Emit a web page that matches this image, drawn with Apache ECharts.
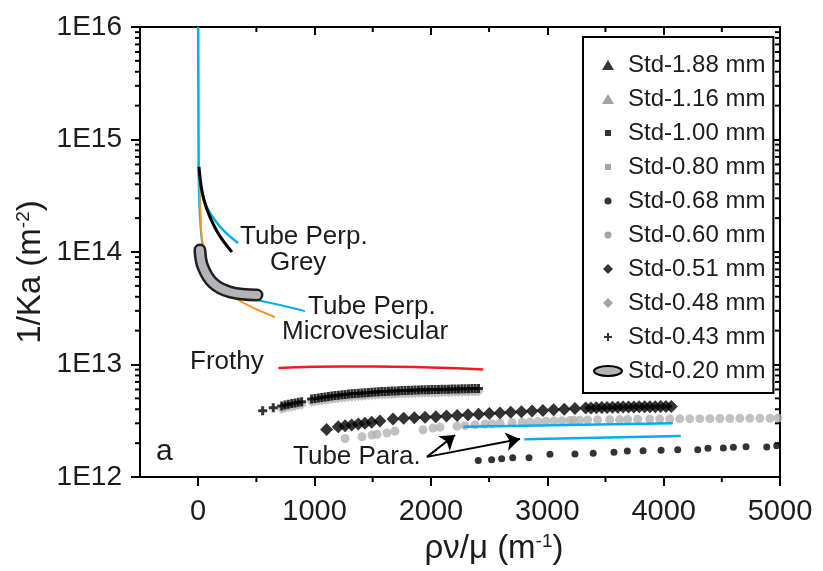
<!DOCTYPE html>
<html>
<head>
<meta charset="utf-8">
<script src="https://cdn.jsdelivr.net/npm/echarts@6.0.0/dist/echarts.min.js"></script>
<style>
  html, body { margin: 0; padding: 0; background: #fff; }
  #chart { width: 823px; height: 571px; }
</style>
</head>
<body>
<div id="chart"></div>
<script>
// ---- values (x in m^-1, y in m^-2) ----
const E12 = 1e12;

// x axis ticks
const xMajor = [0, 1000, 2000, 3000, 4000, 5000];
const xMinor = [500, 1500, 2500, 3500, 4500];
// log minor multipliers
const yMinorMult = [2, 3, 4, 5, 6, 7, 8, 9];
const yDecades = [1e12, 1e13, 1e14, 1e15];

// tube perpendicular, grey sample (blue = tube, black = second run)
const tubePerpGreyBlue = [[0, 1e16], [2, 2.24e15], [4, 6.2e14], [41, 3.08e14], [162, 1.81e14], [342, 1.2e14]];
const tubePerpGreyBlack = [[7, 5.7e14], [50, 2.9e14], [155, 1.57e14], [290, 1.0e14]];
// microvesicular sample
const microOrange = [[8, 5.9e14], [22, 2.0e14], [38, 1.2e14], [144, 5.1e13], [299, 3.98e13], [470, 3.2e13], [660, 2.64e13]];
const microBlue = [[3, 6e14], [30, 1.3e14], [120, 6e13], [300, 4.3e13], [503, 3.74e13], [703, 3.38e13], [918, 2.98e13]];
// frothy
const frothy = [[690, 9.3e12], [1000, 9.55e12], [1500, 9.6e12], [2000, 9.4e12], [2450, 9.05e12]];
// tube parallel
const tubePara1 = [[2278, 2.80e12], [4078, 3.00e12]];
const tubePara2 = [[2803, 2.16e12], [4147, 2.31e12]];
// arrows (tail, heads)
const arrowTail = [1966, 1.51e12];
const arrowHead1 = [2207, 2.36e12];
const arrowHead2 = [2766, 2.18e12];

// Std-0.20 mm band
const std020 = [[15, 1.04e14], [41, 7.36e13], [127, 5.3e13], [273, 4.41e13], [505, 4.15e13]];

// Std-0.43 mm (+), y in 1e12
const std043X = [554, 645, 718, 746, 774, 804, 832, 860, 889, 975, 1004, 1033, 1062, 1090, 1119, 1148, 1176, 1205, 1234, 1262,
  1291, 1320, 1348, 1377, 1406, 1434, 1463, 1492, 1520, 1549, 1578, 1606, 1635, 1664, 1692, 1721, 1750, 1778, 1807, 1836,
  1864, 1893, 1922, 1950, 1979, 2008, 2036, 2065, 2094, 2122, 2151, 2180, 2208, 2237, 2266, 2294, 2323, 2352, 2380, 2409];
const std043Y = [3.88, 4.13, 4.28, 4.37, 4.43, 4.49, 4.55, 4.62, 4.67, 4.93, 4.99, 5.05, 5.10, 5.15, 5.20, 5.25, 5.30, 5.34, 5.38, 5.42,
  5.46, 5.50, 5.53, 5.56, 5.59, 5.62, 5.65, 5.67, 5.70, 5.72, 5.74, 5.76, 5.78, 5.80, 5.82, 5.84, 5.86, 5.87, 5.89, 5.90,
  5.92, 5.93, 5.95, 5.96, 5.97, 5.99, 6.00, 6.01, 6.02, 6.03, 6.04, 6.05, 6.06, 6.07, 6.08, 6.09, 6.10, 6.11, 6.12, 6.13];
// Std-0.48 mm (grey diamonds just under the + row), same x from index 2
const std048Y = [null, null, 4.02, 4.11, 4.16, 4.22, 4.28, 4.34, 4.39, 4.63, 4.69, 4.75, 4.79, 4.84, 4.89, 4.94, 4.98, 5.02, 5.06, 5.09,
  5.13, 5.17, 5.20, 5.23, 5.25, 5.28, 5.31, 5.33, 5.36, 5.38, 5.40, 5.41, 5.43, 5.45, 5.47, 5.49, 5.51, 5.52, 5.54, 5.55,
  5.56, 5.57, 5.59, 5.60, 5.61, 5.63, 5.64, 5.65, 5.66, 5.67, 5.68, 5.69, 5.70, 5.71, 5.72, 5.72, 5.73, 5.74, 5.75, 5.76];

// Std-0.51 mm (black diamonds)
const std051X = [1104, 1204, 1262, 1319, 1376, 1433, 1491, 1562, 1674, 1766, 1858, 1950, 2042, 2134, 2226, 2318, 2410, 2502,
  2594, 2686, 2778, 2870, 2962, 3054, 3146, 3238, 3330, 3376, 3422, 3468, 3514, 3560, 3606, 3652, 3698, 3744, 3790, 3836,
  3882, 3928, 3974, 4020, 4066];
const std051Y = [2.65, 2.80, 2.86, 2.90, 2.96, 3.00, 3.06, 3.15, 3.28, 3.32, 3.36, 3.40, 3.44, 3.49, 3.53, 3.58, 3.62, 3.67,
  3.71, 3.76, 3.81, 3.86, 3.91, 3.96, 4.01, 4.06, 4.10, 4.11, 4.12, 4.14, 4.15, 4.16, 4.17, 4.18, 4.19, 4.20, 4.21, 4.21,
  4.22, 4.22, 4.23, 4.23, 4.24];

// Std-0.60 mm (grey circles)
const std060X = [1262, 1408, 1494, 1537, 1623, 1691, 1932, 2018, 2078, 2224, 2293, 2379, 2465, 2525, 2594, 2697, 2783, 2852,
  2920, 2989, 3058, 3126, 3195, 3226, 3278, 3347, 3433, 3536, 3622, 3691, 3777, 3880, 3966, 4052, 4138, 4224, 4311, 4397,
  4483, 4569, 4655, 4741, 4827, 4913, 4982];
const std060Y = [2.20, 2.28, 2.36, 2.40, 2.46, 2.55, 2.63, 2.72, 2.77, 2.82, 2.86, 2.91, 2.95, 2.98, 3.00, 3.04, 3.07, 3.09,
  3.11, 3.13, 3.15, 3.16, 3.18, 3.19, 3.20, 3.21, 3.22, 3.23, 3.24, 3.25, 3.26, 3.27, 3.27, 3.28, 3.29, 3.29, 3.30, 3.30,
  3.31, 3.31, 3.32, 3.32, 3.33, 3.33, 3.34];

// Std-0.68 mm (black circles)
const std068X = [2407, 2522, 2608, 2703, 2843, 3023, 3238, 3395, 3573, 3688, 3823, 3978, 4121, 4293, 4381, 4513, 4599, 4708, 4886, 4972];
const std068Y = [1.40, 1.42, 1.45, 1.48, 1.48, 1.59, 1.60, 1.63, 1.66, 1.70, 1.71, 1.73, 1.75, 1.75, 1.80, 1.81, 1.84, 1.86, 1.85, 1.90];

// ---- styles ----
const FONT = '"Liberation Sans", Arial, Helvetica, sans-serif';
const TXT = '#1c1c1c';
const BLUE = '#00aeef';
const ORANGE = '#f7941d';
const RED = '#ed1c24';
const GREY = '#b2b2b2';
const PLUS = 'path://M3,0H6V3H9V6H6V9H3V6H0V3H3Z';

// legend icons (padded to a 30x12 box so each keeps its own size)
const ICON_TRI = 'path://M0,0M30,12M15,1L21,11L9,11Z';
const ICON_SQ = 'path://M0,0M30,12M12,3H18V9H12Z';
const ICON_CIR = 'path://M0,0M30,12M11.5,6A3.5,3.5,0,1,1,18.5,6A3.5,3.5,0,1,1,11.5,6Z';
const ICON_DIA = 'path://M0,0M30,12M15,1L20,6L15,11L10,6Z';
const ICON_PLUS = 'path://M0,0M30,12M14,2H16V5H19V7H16V10H14V7H11V5H14Z';
const ICON_ELL = 'path://M0,0M30,12M1,6A14,5,0,1,1,29,6A14,5,0,1,1,1,6Z';

function pairs(xs, ys) {
  const out = [];
  xs.forEach((x, i) => { if (ys[i] != null) out.push([x, ys[i] * E12]); });
  return out;
}

// minor tick values (2..9 in every decade)
const yMinorTicks = [];
yDecades.forEach(d => yMinorMult.forEach(m => yMinorTicks.push(m * d)));

const lineAxis = { show: true, onZero: false, lineStyle: { color: '#000', width: 2 } };
const tickStyle = { color: '#000', width: 2 };
const MINOR = 5;

function tickLine(x1, y1, x2, y2) {
  return { type: 'line', silent: true, z: 50, shape: { x1, y1, x2, y2 }, style: { stroke: '#000', lineWidth: 2 } };
}
function label(x, y, text, size) {
  return {
    type: 'text', x, y,
    style: { text, font: (size || 26) + 'px ' + FONT, fill: TXT, verticalAlign: 'middle', textVerticalAlign: 'middle' }
  };
}

const myChart = echarts.init(document.getElementById('chart'), null, { renderer: 'canvas' });

const labels = [
  label(240, 237, 'Tube Perp.'),
  label(270, 263, 'Grey'),
  label(308, 307, 'Tube Perp.'),
  label(282, 332, 'Microvesicular'),
  label(190, 362, 'Frothy'),
  label(293, 457, 'Tube Para.'),
  label(156, 452, 'a', 30),
  {
    type: 'text', x: 494, y: 549,
    style: {
      text: '{a|ρν/μ (m}{s|-1}{a|)}',
      align: 'center', verticalAlign: 'middle', textAlign: 'center', textVerticalAlign: 'middle',
      rich: {
        a: { fontSize: 33, fontFamily: FONT, fill: TXT, color: TXT },
        s: { fontSize: 19, fontFamily: FONT, fill: TXT, color: TXT, verticalAlign: 'top' }
      }
    }
  },
  {
    type: 'text', x: 31, y: 272, rotation: Math.PI / 2,
    style: {
      text: '{a|1/Ka (m}{s|-2}{a|)}',
      align: 'center', verticalAlign: 'middle', textAlign: 'center', textVerticalAlign: 'middle',
      rich: {
        a: { fontSize: 33, fontFamily: FONT, fill: TXT, color: TXT },
        s: { fontSize: 19, fontFamily: FONT, fill: TXT, color: TXT, verticalAlign: 'top' }
      }
    }
  }
];

const option = {
  animation: false,
  backgroundColor: '#fff',
  grid: { left: 140, right: 43, top: 27, bottom: 94, containLabel: false },
  xAxis: [
    {
      type: 'value', position: 'bottom', min: -500, max: 5000,
      axisLine: lineAxis,
      axisTick: { show: true, customValues: xMajor, length: 9, lineStyle: tickStyle },
      axisLabel: {
        customValues: xMajor, fontSize: 29, fontFamily: FONT, color: TXT, margin: 20,
        formatter: v => String(v)
      },
      splitLine: { show: false }
    },
    {
      type: 'value', position: 'top', min: -500, max: 5000,
      axisLine: lineAxis,
      axisTick: { show: true, inside: true, customValues: xMajor, length: 8, lineStyle: tickStyle },
      axisLabel: { show: false }, splitLine: { show: false }
    }
  ],
  yAxis: [
    {
      type: 'log', logBase: 10, position: 'left', min: 1e12, max: 1e16,
      axisLine: lineAxis,
      axisTick: { show: true, length: 9, lineStyle: tickStyle },
      axisLabel: {
        fontSize: 28, fontFamily: FONT, color: TXT, margin: 18,
        formatter: v => '1E' + Math.round(Math.log10(v))
      },
      splitLine: { show: false }
    },
    {
      type: 'log', logBase: 10, position: 'right', min: 1e12, max: 1e16,
      axisLine: lineAxis,
      axisTick: { show: true, inside: true, length: 8, lineStyle: tickStyle },
      axisLabel: { show: false }, splitLine: { show: false }
    }
  ],
  legend: {
    orient: 'vertical', left: 583, top: 37,
    padding: [16, 8, 10, 9],
    itemGap: 10, itemWidth: 30, itemHeight: 12,
    borderColor: '#000', borderWidth: 2, backgroundColor: '#fff',
    selectedMode: false,
    textStyle: { fontSize: 24, lineHeight: 24, fontFamily: FONT, color: TXT },
    data: [
      { name: 'Std-1.88 mm', icon: ICON_TRI, itemStyle: { color: '#000', borderWidth: 0 } },
      { name: 'Std-1.16 mm', icon: ICON_TRI, itemStyle: { color: '#8c8c8c', borderWidth: 0 } },
      { name: 'Std-1.00 mm', icon: ICON_SQ, itemStyle: { color: '#000', borderWidth: 0 } },
      { name: 'Std-0.80 mm', icon: ICON_SQ, itemStyle: { color: '#8c8c8c', borderWidth: 0 } },
      { name: 'Std-0.68 mm', icon: ICON_CIR, itemStyle: { color: '#000', borderWidth: 0 } },
      { name: 'Std-0.60 mm', icon: ICON_CIR, itemStyle: { color: '#8c8c8c', borderWidth: 0 } },
      { name: 'Std-0.51 mm', icon: ICON_DIA, itemStyle: { color: '#000', borderWidth: 0 } },
      { name: 'Std-0.48 mm', icon: ICON_DIA, itemStyle: { color: '#8c8c8c', borderWidth: 0 } },
      { name: 'Std-0.43 mm', icon: ICON_PLUS, itemStyle: { color: '#000', borderWidth: 0 } },
      { name: 'Std-0.20 mm', icon: ICON_ELL, itemStyle: { color: '#b3b4b8', borderColor: '#000', borderWidth: 2 } }
    ]
  },
  series: [
    { name: 'Std-1.88 mm', type: 'scatter', data: [], symbol: 'triangle', itemStyle: { color: '#000' } },
    { name: 'Std-1.16 mm', type: 'scatter', data: [], symbol: 'triangle', itemStyle: { color: '#8c8c8c' } },
    { name: 'Std-1.00 mm', type: 'scatter', data: [], symbol: 'rect', itemStyle: { color: '#000' } },
    { name: 'Std-0.80 mm', type: 'scatter', data: [], symbol: 'rect', itemStyle: { color: '#8c8c8c' } },
    {
      name: 'Std-0.60 mm', type: 'scatter', data: pairs(std060X, std060Y),
      symbol: 'circle', symbolSize: 9, itemStyle: { color: GREY }
    },
    {
      name: 'Std-0.48 mm', type: 'scatter', data: pairs(std043X, std048Y),
      symbol: 'diamond', symbolSize: 10, itemStyle: { color: GREY }
    },
    {
      name: 'Std-0.43 mm', type: 'scatter', data: pairs(std043X, std043Y),
      symbol: PLUS, symbolSize: 9, itemStyle: { color: '#000' }
    },
    {
      name: 'Std-0.51 mm', type: 'scatter', data: pairs(std051X, std051Y),
      symbol: 'diamond', symbolSize: 13, itemStyle: { color: '#000' }
    },
    {
      name: 'Std-0.68 mm', type: 'scatter', data: pairs(std068X, std068Y),
      symbol: 'circle', symbolSize: 7, itemStyle: { color: '#000' }
    },
    {
      name: 'tubePara1', type: 'line', data: tubePara1, showSymbol: false,
      lineStyle: { color: BLUE, width: 2.5 },
      markLine: {
        silent: true, symbol: ['none', 'arrow'], symbolSize: 14,
        lineStyle: { color: '#000', width: 2, type: 'solid' },
        label: { show: false },
        data: [
          [{ coord: arrowTail }, { coord: arrowHead1 }],
          [{ coord: arrowTail }, { coord: arrowHead2 }]
        ]
      }
    },
    { name: 'tubePara2', type: 'line', data: tubePara2, showSymbol: false, lineStyle: { color: BLUE, width: 2.5 } },
    { name: 'frothy', type: 'line', data: frothy, smooth: 0.5, showSymbol: false, lineStyle: { color: RED, width: 2.5 } },
    { name: 'microBlue', type: 'line', data: microBlue, smooth: 0.4, showSymbol: false, lineStyle: { color: BLUE, width: 2 } },
    { name: 'microOrange', type: 'line', data: microOrange, smooth: 0.4, showSymbol: false, lineStyle: { color: ORANGE, width: 2 } },
    { name: 'greyBlue', type: 'line', data: tubePerpGreyBlue, smooth: 0.4, showSymbol: false, lineStyle: { color: BLUE, width: 2.5 } },
    { name: 'greyBlack', type: 'line', data: tubePerpGreyBlack, smooth: 0.4, showSymbol: false, lineStyle: { color: '#000', width: 3 } },
    {
      name: 'std020Outline', type: 'line', data: std020, smooth: 0.4, showSymbol: false,
      lineStyle: { color: '#231f20', width: 13, cap: 'round', join: 'round' }
    },
    {
      name: 'Std-0.20 mm', type: 'line', data: std020, smooth: 0.4, showSymbol: false,
      lineStyle: { color: '#b3b4b8', width: 8, cap: 'round', join: 'round' }
    }
  ],
  graphic: labels
};

myChart.setOption(option);

// minor ticks, placed through the chart's own axes
const toPx = p => myChart.convertToPixel({ xAxisIndex: 0, yAxisIndex: 0 }, p);
const leftX = toPx([-500, 1e12])[0];
const rightX = toPx([5000, 1e12])[0];
const bottomY = toPx([0, 1e12])[1];
const topY = toPx([0, 1e16])[1];
const minorEls = [];
yMinorTicks.forEach(v => {
  const y = toPx([0, v])[1];
  minorEls.push(tickLine(leftX - MINOR, y, leftX, y));
  minorEls.push(tickLine(rightX - MINOR, y, rightX, y));
});
xMinor.forEach(v => {
  const x = toPx([v, 1e12])[0];
  minorEls.push(tickLine(x, bottomY, x, bottomY + MINOR));
  minorEls.push(tickLine(x, topY, x, topY + MINOR));
});
myChart.setOption({ graphic: labels.concat(minorEls) });
</script>
</body>
</html>
